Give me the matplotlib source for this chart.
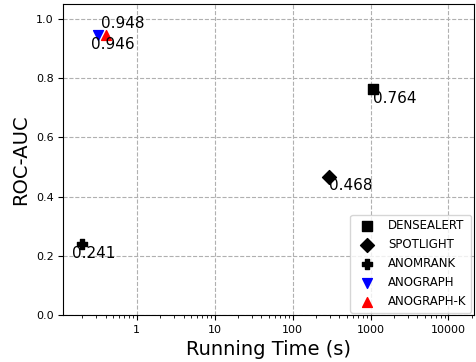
import numpy as np
import matplotlib
matplotlib.use('Agg')
import matplotlib.pyplot as plt

# running time (s) and ROC-AUC for each method
methods = ['DENSEALERT', 'SPOTLIGHT', 'ANOMRANK', 'ANOGRAPH', 'ANOGRAPH-K']
times = [1070, 290, 0.2, 0.32, 0.41]
aucs = [0.764, 0.468, 0.241, 0.946, 0.948]
markers = ['s', 'D', 'P', 'v', '^']
colors = ['black', 'black', 'black', 'blue', 'red']
offsets = [(0, -10), (0, -10), (-7, -10), (-5, -10), (-4, 5)]

fig, ax = plt.subplots(figsize=(4.76, 3.62), dpi=100)
for m, t, a, mk, c, off in zip(methods, times, aucs, markers, colors, offsets):
    ax.scatter(t, a, marker=mk, color=c, s=50, label=m, zorder=3)
    ax.annotate('%.3f' % a, xy=(t, a), xytext=off, textcoords='offset points',
                fontsize=11, zorder=4)

ax.set_xscale('log')
ax.set_xlim(0.115, 21000)
ax.set_ylim(0, 1.05)
ax.set_xticks([1, 10, 100, 1000, 10000])
ax.set_xticklabels(['1', '10', '100', '1000', '10000'])
ax.tick_params(labelsize=8)
ax.grid(True, linestyle='--', color='#b0b0b0')
ax.set_axisbelow(True)
ax.set_xlabel('Running Time (s)', fontsize=14)
ax.set_ylabel('ROC-AUC', fontsize=14)
ax.legend(loc='lower right', fontsize=8.5, borderaxespad=0.2)
fig.subplots_adjust(left=0.133, right=0.995, top=0.988, bottom=0.13)
fig.savefig('out.png')
